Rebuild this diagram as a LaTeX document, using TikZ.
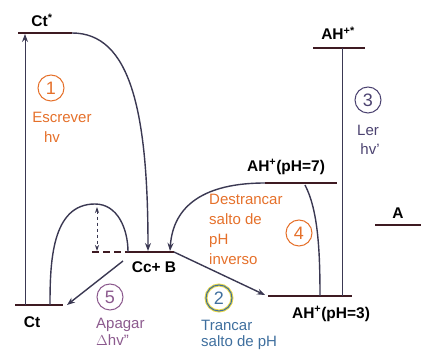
\documentclass[tikz,border=0pt]{standalone}
\usepackage{fontspec}
\setmainfont{Liberation Sans}
\usetikzlibrary{arrows.meta,positioning,calc}
\definecolor{LevelDark}{HTML}{3E1A22}
\definecolor{PathInk}{HTML}{3A3852}
\definecolor{StepOrange}{HTML}{E5702A}
\definecolor{StepBlue}{HTML}{3F6F9E}
\definecolor{StepYellow}{HTML}{E8D84A}
\definecolor{StepNavy}{HTML}{4B4270}
\definecolor{StepPurple}{HTML}{8C5A8E}

\begin{document}
\begin{tikzpicture}[x=1pt,y=-1pt,>={Stealth[length=8pt,width=6pt]},
 energy/.style={draw=LevelDark,line width=1.8pt},
 flow/.style={draw=PathInk,line width=1.4pt},
 stepnum/.style={circle,draw=#1,text=#1,line width=1pt,minimum size=26pt,
                 inner sep=0pt,font=\fontsize{18}{18}\selectfont},
 steptext/.style={text=#1,font=\fontsize{15}{20}\selectfont,align=left,inner sep=0pt},
 lvlname/.style={font=\bfseries\fontsize{15.5}{16}\selectfont,inner sep=1pt}]
\useasboundingbox (0,0) rectangle (421,352);
% energy levels
\coordinate (ctsL) at (18,33);   \coordinate (ctsR) at (72,33);
\coordinate (ctL) at (15,305);   \coordinate (ctR) at (63,305);
\coordinate (ccD) at (92,252);   \coordinate (ccL) at (128,252);
\coordinate (ccR) at (174,252);
\coordinate (ah7L) at (265,183); \coordinate (ah7R) at (337,183);
\coordinate (ah3L) at (268,296); \coordinate (ah3R) at (352,296);
\coordinate (ahsL) at (313,48);  \coordinate (ahsR) at (365,48);
\coordinate (aL) at (375,225);   \coordinate (aR) at (421,225);
\draw[energy] (ctsL) -- (ctsR);
\draw[energy] (ctL) -- (ctR);
\draw[energy,line width=1.3pt,dash pattern=on 7pt off 4pt] (ccD) -- (ccL);
\draw[energy] (ccL) -- (ccR);
\draw[energy] (ah7L) -- (ah7R);
\draw[energy] (ah3L) -- (ah3R);
\draw[energy] (ahsL) -- (ahsR);
\draw[energy] (aL) -- (aR);
\node[lvlname] (cts) at (42,20) {Ct\textsuperscript{*}};
\node[lvlname] (ct) at (32,322) {Ct};
\node[lvlname] (cc) at (154,267) {Cc+ B};
\node[lvlname] (ahs) at (338,33) {AH\textsuperscript{+*}};
\node[lvlname] (ah7) at (286,167) {AH\textsuperscript{+}(pH=7)};
\node[lvlname] (ah3) at (331,314) {AH\textsuperscript{+}(pH=3)};
\node[lvlname] (a) at (398,213) {A};
% connectors
\coordinate (wBot) at (25,305); \coordinate (wTop) at (25,34);
\coordinate (ccIn1) at (148,251); \coordinate (ccIn2) at (170,251);
\coordinate (barStart) at (50,305); \coordinate (barTop) at (95,204);
\coordinate (hTop) at (97,207); \coordinate (hBot) at (97,251);
\coordinate (offStart) at (123,261); \coordinate (offEnd) at (67,305);
\coordinate (ah3In) at (265,295);
\coordinate (ah7Out) at (305,185); \coordinate (ah3In4) at (320,296);
\coordinate (rdTop) at (342,48); \coordinate (rdBot) at (342,296);
\draw[flow,->,line width=1pt] (wBot) -- (wTop);
\draw[flow,->] (ctsR) .. controls (130,33) and (148,110) .. (ccIn1);
\draw[flow] (barStart) to[out=90,in=180] (barTop) to[out=0,in=90] (ccL);
\draw[flow,<->,line width=.9pt,dashed,>={Stealth[length=6pt,width=4pt]}] (hTop) -- (hBot);
\draw[flow,->] (offStart) -- (offEnd);
\draw[flow,->] (ccR) -- (ah3In);
\draw[flow,->] (ah7L) .. controls (205,183) and (173,205) .. (ccIn2);
\draw[flow] (ah7Out) .. controls (318,210) and (320,250) .. (ah3In4);
\draw[flow,line width=1pt] (rdTop) -- (rdBot);
% steps
\node[stepnum=StepOrange] (s1) at (51,88) {1};
\node[steptext=StepOrange] (s1a) at (62,117) {Escrever};
\node[steptext=StepOrange] (s1b) at (52,137) {hv};
\node[stepnum=StepBlue,preaction={draw=StepYellow,line width=3pt}] (s2) at (219,298) {2};
\node[steptext=StepBlue,font=\fontsize{15}{16}\selectfont,anchor=north west] (s2t) at (201,320) {Trancar\\salto de pH};
\node[stepnum=StepNavy] (s3) at (368,100) {3};
\node[steptext=StepNavy] (s3a) at (368,130) {Ler};
\node[steptext=StepNavy] (s3b) at (370,149) {hv'};
\node[stepnum=StepOrange] (s4) at (299,233) {4};
\node[steptext=StepOrange,anchor=north west] (s4t) at (209,194) {Destrancar\\salto de\\pH\\inverso};
\node[stepnum=StepPurple] (s5) at (110,297) {5};
\node[steptext=StepPurple,font=\fontsize{15}{17}\selectfont,anchor=north west] (s5t) at (96,318) {Apagar\\$\Delta$hv''};
\end{tikzpicture}
\end{document}
